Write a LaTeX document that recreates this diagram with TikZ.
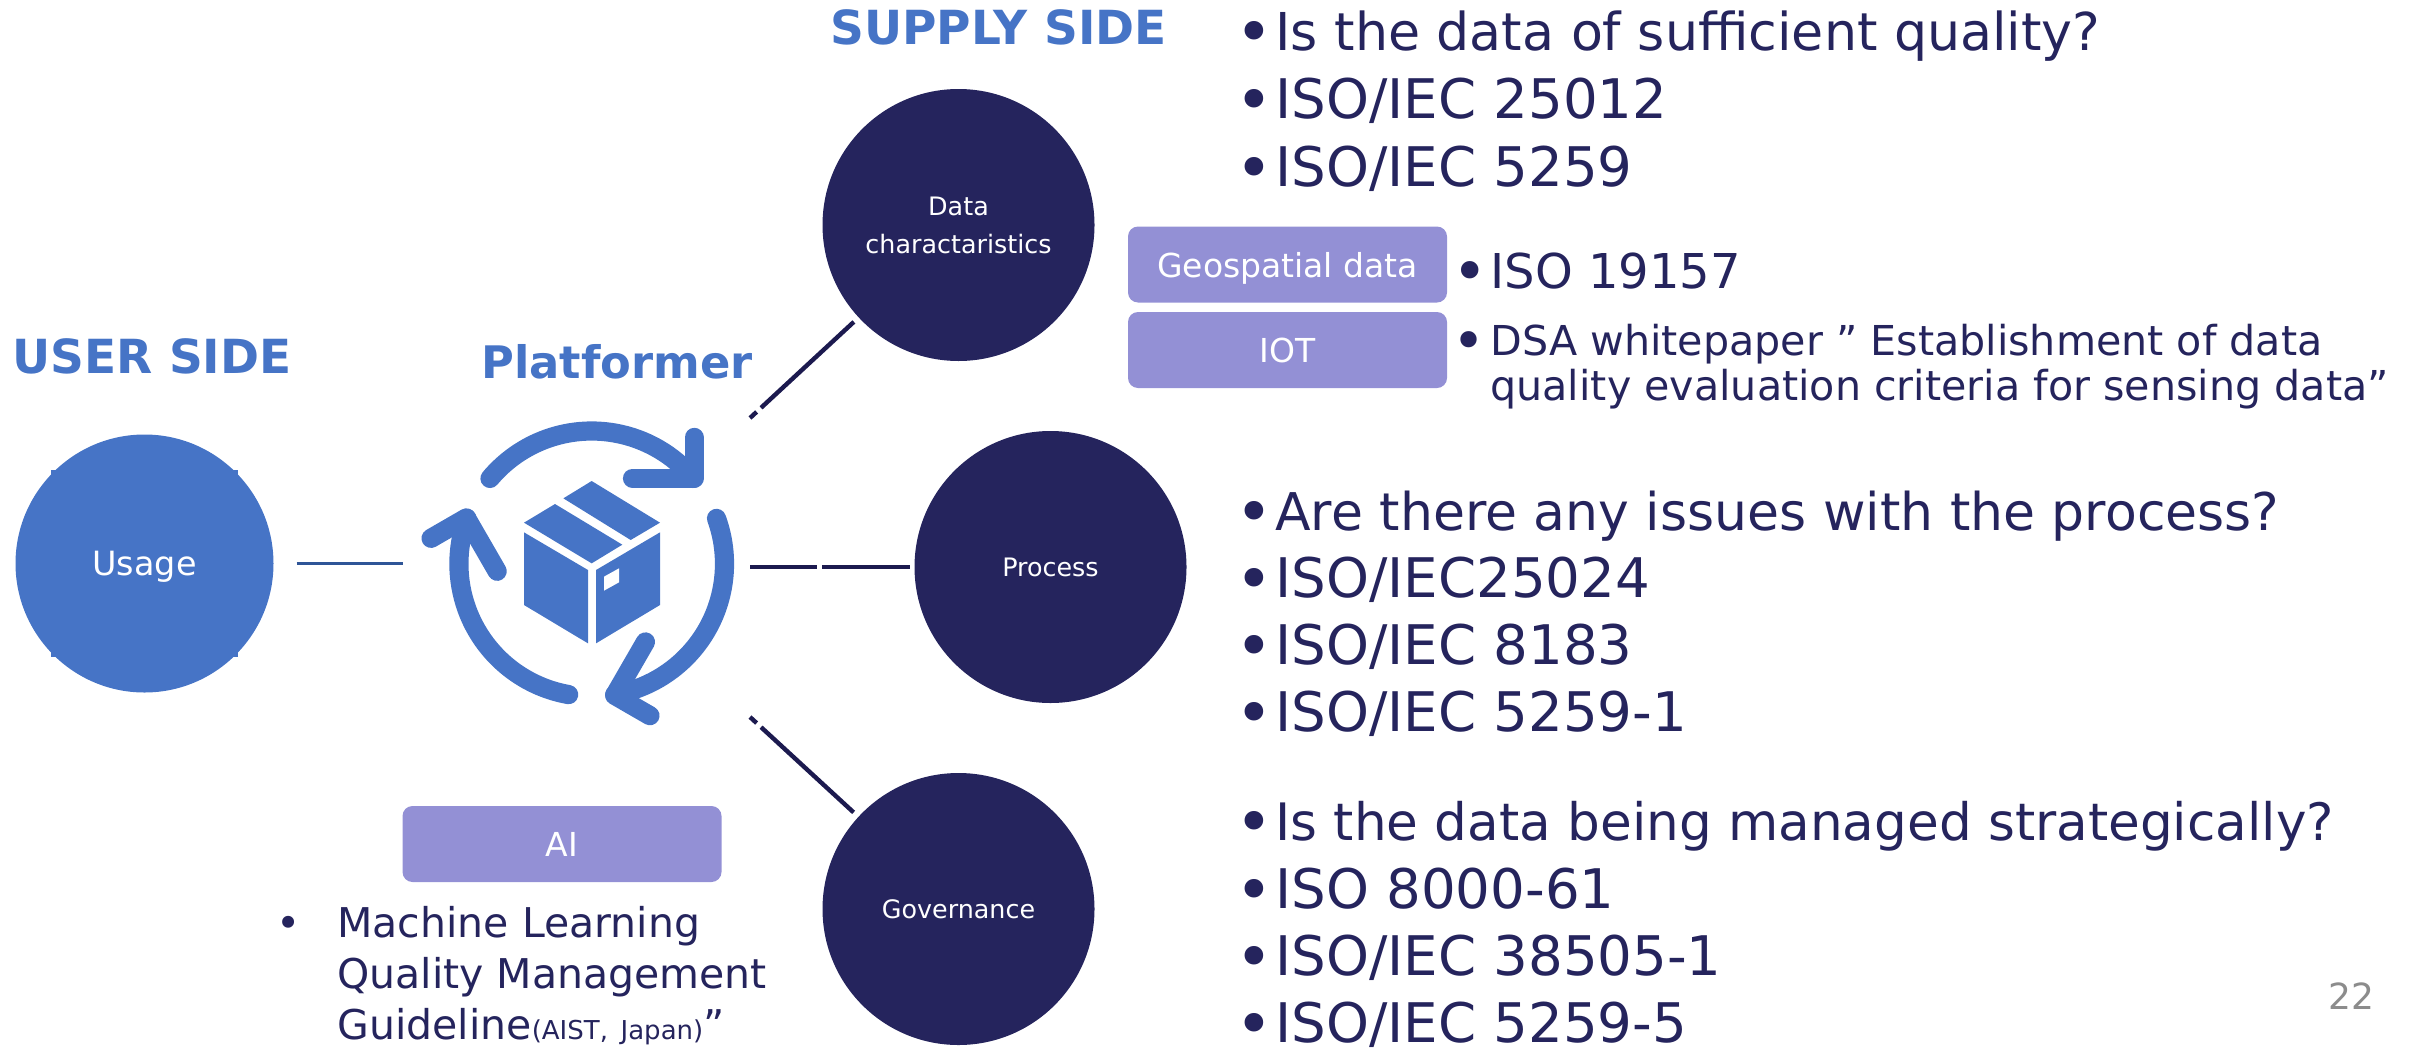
\documentclass[tikz,border=0pt]{standalone}
\usepackage{fontspec}
\setmainfont{DejaVu Sans}
\definecolor{navy}{HTML}{25245D}
\definecolor{linenavy}{HTML}{1C1A4F}
\definecolor{blue1}{HTML}{4674C6}
\definecolor{blue2}{HTML}{2F5597}
\definecolor{lilac}{HTML}{9390D5}
\definecolor{pagegrey}{HTML}{8C8C8C}
\tikzset{
  bignode/.style={circle,fill=navy,text=white,minimum size=136pt,inner sep=0pt,outer sep=0pt,align=center,font=\fontsize{12.7}{19}\selectfont},
  tagbox/.style={rectangle,rounded corners=5pt,fill=lilac,text=white,inner sep=0pt,outer sep=0pt,minimum height=38pt,minimum width=159.5pt,text height=12.5pt,text depth=0pt,font=\fontsize{16.5}{18}\selectfont},
  heading/.style={anchor=base west,inner sep=0pt,text=blue1,font=\fontsize{23.5}{28}\selectfont\bfseries},
  item/.style={anchor=base west,inner sep=0pt,text=navy,font=\fontsize{26.1}{30}\selectfont},
  isoitem/.style={anchor=base west,inner sep=0pt,text=navy,font=\fontsize{27.3}{30}\selectfont},
  subitem/.style={anchor=base west,inner sep=0pt,text=navy,align=left},
  link/.style={draw=linenavy,line width=2.4pt},
  iconarrow/.style={draw=blue1,line width=9.6pt,line cap=round,line join=round},
  iconface/.style={fill=blue1}
}
\newcommand{\bul}{\makebox[17.5pt][l]{\hspace*{-2.5pt}\raisebox{-2.2pt}{\fontsize{32}{32}\selectfont •}}}
\begin{document}
\begin{tikzpicture}[x=0.5pt,y=-0.5pt]
\useasboundingbox (0,0) rectangle (2412,1049);
% Usage
\fill[blue1] (51,470) rectangle (238,657);
\node[circle,fill=blue1,text=white,minimum size=129pt,inner sep=0pt,outer sep=0pt,text height=15.4pt,text depth=3.5pt,font=\fontsize{16.7}{20}\selectfont] (usage) at (144.5,563.5) {Usage};
% Supply nodes
\node[bignode] (data) at (958.5,225) {Data\\charactaristics};
\node[bignode] (process) at (1050.5,567) {Process};
\node[bignode] (gov) at (958.5,909) {Governance};
% Connector ends at the icon
\coordinate (iconE) at (750,567);
\coordinate (iconNE) at (750,418);
\coordinate (iconSE) at (750,717);
\coordinate (iconW) at (403,563.5);
\draw[draw=blue2,line width=1.3pt,shorten <=11.5pt] (usage) -- (iconW);
\draw[link,dash pattern=on 33.5pt off 2.5pt on 300pt,shorten >=2.5pt] (iconE) -- (process);
\draw[link,line width=2.2pt,dash pattern=on 4.5pt off 3pt on 300pt,shorten >=3.3pt] (iconNE) -- (data);
\draw[link,line width=2.2pt,dash pattern=on 4.5pt off 3pt on 300pt,shorten >=3.3pt] (iconSE) -- (gov);
% Icon: circular arrows
\foreach \a in {0,-120,-240}{
  \begin{scope}[shift={(591.7,563.8)},rotate=\a]
    \draw[iconarrow] (140:66.4pt) arc[start angle=140,end angle=40,radius=66.4pt];
    \draw[iconarrow] (51.2pt,63.2pt) -- (51.2pt,42.8pt) -- (20.4pt,42.8pt);
  \end{scope}
}
% Icon: box
\begin{scope}[shift={(400,380)},x=0.16667pt,y=-0.16667pt]
  \fill[iconface] (490,355) -- (575,303) -- (780,428) -- (692,480) -- cycle;
  \fill[iconface] (372,428) -- (465,372) -- (667,494) -- (575,550) -- cycle;
  \fill[iconface] (372,457) -- (564,570) -- (564,790) -- (372,675) -- cycle;
  \fill[iconface] (588,570) -- (780,457) -- (780,675) -- (588,790) -- cycle;
  \fill[white] (612,590) -- (657,565) -- (657,607) -- (612,632) -- cycle;
\end{scope}
% Headings
\node[heading] (userh) at (12,373) {USER SIDE};
\node[heading,font=\fontsize{22.4}{28}\selectfont\bfseries] (plath) at (481,378) {Platformer};
\node[heading] (supph) at (830,44) {SUPPLY SIDE};
% Tag boxes
\node[tagbox] (geo) at (1287.5,264.5) {Geospatial data};
\node[tagbox] (iot) at (1287.5,350) {IOT};
\node[tagbox] (ai) at (562,844) {AI};
% Lists
\node[item] (a1) at (1240,50.5) {\bul Is the data of sufficient quality?};
\node[isoitem] (a2) at (1240,118) {\bul ISO/IEC 25012};
\node[isoitem] (a3) at (1240,186) {\bul ISO/IEC 5259};
\node[subitem,font=\fontsize{24}{26}\selectfont] (b1) at (1455,288) {\makebox[17.5pt][l]{\hspace*{-1.5pt}\raisebox{-2.3pt}{\fontsize{30}{30}\selectfont •}}ISO 19157};
\node[subitem,font=\fontsize{20.6}{22.5}\selectfont] (b2) at (1455,400) {\makebox[17.5pt][l]{\hspace*{-1.5pt}\raisebox{-2.7pt}{\fontsize{28}{28}\selectfont •}}DSA whitepaper ” Establishment of data\\\hspace*{17.5pt}quality evaluation criteria for sensing data”};
\node[item,font=\fontsize{26}{30}\selectfont] (c1) at (1240,530.5) {\bul Are there any issues with the process?};
\node[isoitem] (c2) at (1240,597) {\bul ISO/IEC25024};
\node[isoitem] (c3) at (1240,664) {\bul ISO/IEC 8183};
\node[isoitem] (c4) at (1240,731) {\bul ISO/IEC 5259-1};
\node[item,font=\fontsize{25.8}{30}\selectfont] (d1) at (1240,840.5) {\bul Is the data being managed strategically?};
\node[isoitem] (d2) at (1240,908) {\bul ISO 8000-61};
\node[isoitem] (d3) at (1240,975) {\bul ISO/IEC 38505-1};
\node[isoitem] (d4) at (1240,1042) {\bul ISO/IEC 5259-5};
\node[subitem,font=\fontsize{20.5}{25.5}\selectfont] (e1) at (276,1039) {\makebox[30.5pt][l]{•}Machine Learning\\\hspace*{30.5pt}Quality Management\\\hspace*{30.5pt}Guideline{\fontsize{13}{13}\selectfont(AIST, \,Japan)}”};
\node[anchor=base,inner sep=0pt,text=pagegrey,font=\fontsize{18}{20}\selectfont] (pg) at (2351,1009) {22};
\end{tikzpicture}
\end{document}
